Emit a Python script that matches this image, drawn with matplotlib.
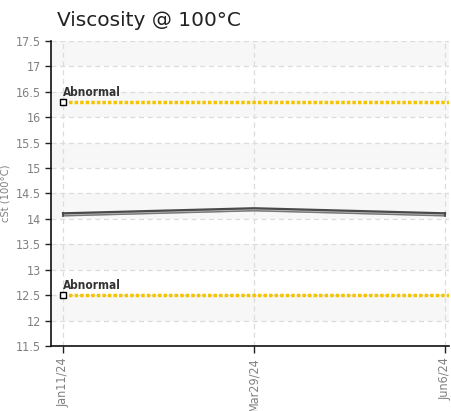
import matplotlib
matplotlib.use('Agg')
import matplotlib.pyplot as plt
import numpy as np

# data
dates = ['Jan11/24', 'Mar29/24', 'Jun6/24']
viscosity = [14.10, 14.20, 14.10]
abnormal_high = 16.3
abnormal_low = 12.5
yticks = np.arange(11.5, 17.51, 0.5)

cond = dict(family='DejaVu Sans', stretch='condensed')

fig = plt.figure(figsize=(4.51, 4.11), dpi=100)
ax = fig.add_axes([51/451, 1-346/411, 398/451, 305/411])

x = np.arange(len(dates))

# alternating bands
for lo in np.arange(12.0, 17.5, 1.0):
    ax.axhspan(lo, lo + 0.5, color='#f7f7f7', lw=0, zorder=0)

ax.grid(True, ls=(0, (4, 3)), color='#dcdcdc', lw=0.9, zorder=1)

# abnormal limits
for lim in [abnormal_high, abnormal_low]:
    ax.plot([x[0], x[-1] + 0.02], [lim, lim], color='#f5c400', lw=2.5,
            ls=(0, (1, 0.6)), zorder=3)
    ax.plot([x[0]], [lim], marker='s', ms=4.5, mfc='white', mec='black',
            mew=1, zorder=5, clip_on=False)
    ax.text(x[0], lim + 0.06, 'Abnormal', fontsize=8.5, color='#333333',
            fontweight='bold', ha='left', va='bottom', zorder=6, **cond)

# viscosity band
v = np.array(viscosity)
ax.fill_between(x, v - 0.04, v + 0.01, color='#c4c4c4', lw=0, zorder=3)
ax.plot(x, v + 0.01, color='#4a4a4a', lw=1.6, zorder=4)
ax.plot(x, v - 0.04, color='#777777', lw=1.0, zorder=4)
ax.plot([x[0], x[0]], [v[0] - 0.04, v[0] + 0.01], color='#444444', lw=1.2, zorder=4)
ax.plot([x[-1], x[-1]], [v[-1] - 0.04, v[-1] + 0.01], color='#444444', lw=1.2, zorder=4)

ax.set_xlim(-12/191, 2 + 4/191)
ax.set_ylim(11.5, 17.5)
ax.set_yticks(yticks)
ax.set_yticklabels(['%g' % t for t in yticks], fontsize=9, color='#808080', **cond)
ax.set_xticks(x)
ax.set_xticklabels(dates, rotation=90, fontsize=9, color='#808080', **cond)
ax.tick_params(axis='y', length=4, width=1, color='#222222', pad=3)
ax.tick_params(axis='x', length=5, width=1, color='#222222', pad=3)

for s in ['top', 'right']:
    ax.spines[s].set_visible(False)
for s in ['left', 'bottom']:
    ax.spines[s].set_color('#111111')
    ax.spines[s].set_linewidth(1.2)

ax.set_ylabel('cSt (100°C)', fontsize=8, color='#808080', labelpad=4, **cond)

fig.text(57/451, 1 - 26/411, 'Viscosity @ 100°C', fontsize=14.5, color='#222222',
         family='DejaVu Sans', ha='left', va='baseline')

fig.savefig('out.png', dpi=100)
